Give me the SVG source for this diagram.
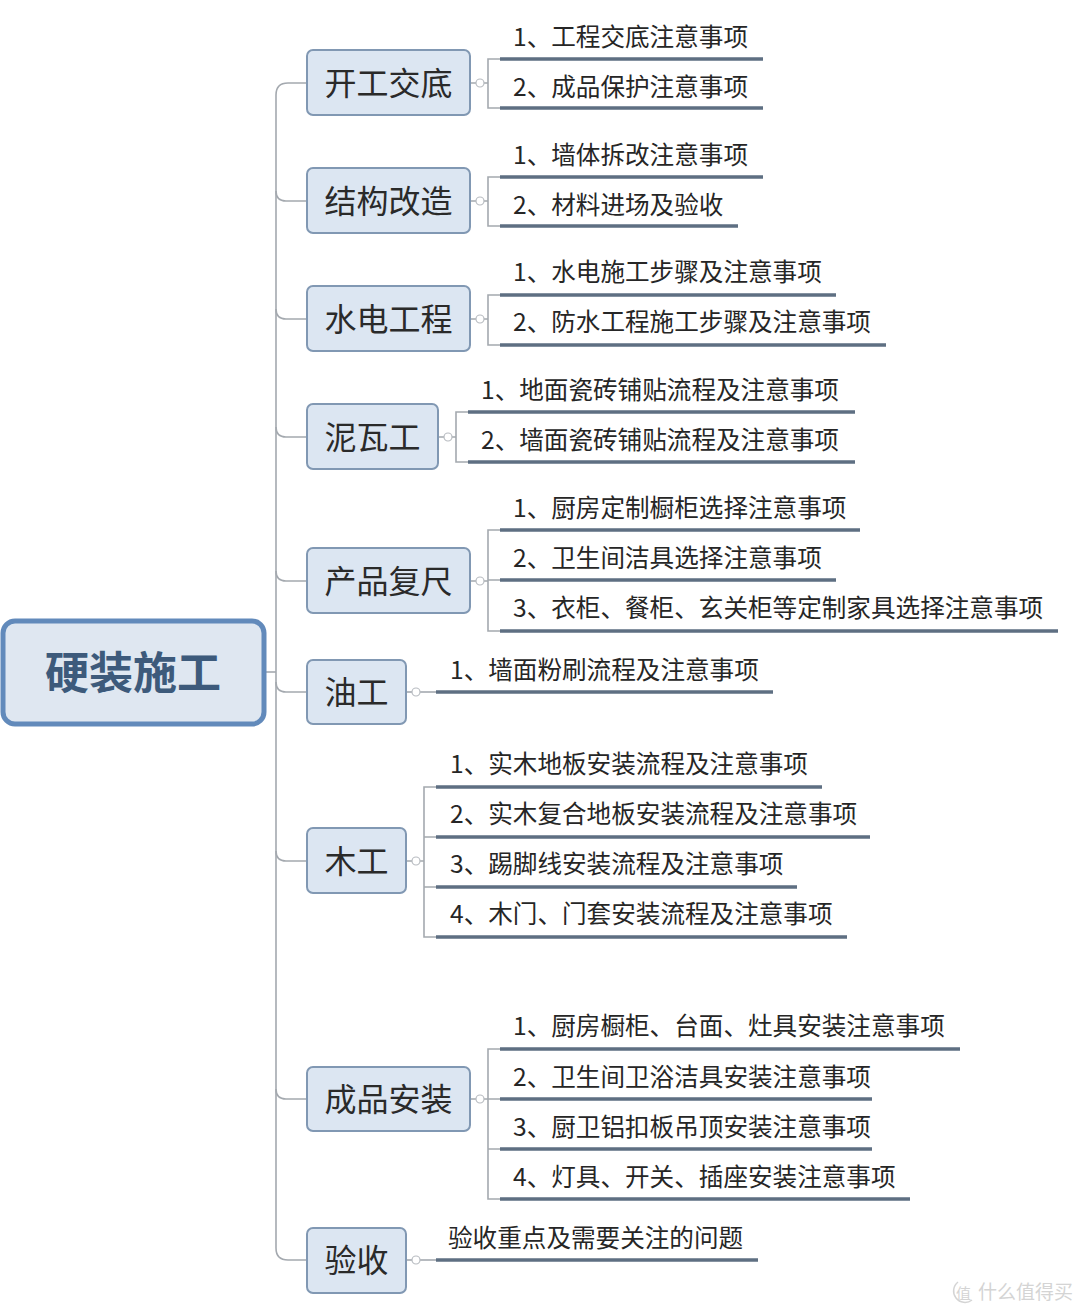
<svg xmlns="http://www.w3.org/2000/svg" width="1080" height="1314" viewBox="0 0 1080 1314">
<style>
.bg{fill:#ffffff}
.root{fill:#dfe7f1;stroke:#628abb;stroke-width:5}
.rootT{font-family:"Noto Sans CJK SC","Noto Sans CJK TC",sans-serif;font-size:44px;font-weight:bold;fill:#3d5a7b;text-anchor:middle}
.cat{fill:#dce6f2;stroke:#8198b3;stroke-width:2}
.catT{font-family:"Noto Sans CJK SC",sans-serif;font-size:32px;fill:#2a2a2a;text-anchor:middle}
.item{font-family:"Noto Sans CJK SC",sans-serif;font-size:24.6px;fill:#262626}
.conn{fill:none;stroke:#a4a9af;stroke-width:1.6}
.ul{fill:none;stroke:#5e6f82;stroke-width:3.5}
.knob{fill:#ffffff;stroke:#b8bcc1;stroke-width:1.2}
.wm{font-family:"Noto Sans CJK SC",sans-serif;font-size:19px;fill:#d4d4d4}
</style>
<rect class="bg" x="0" y="0" width="1080" height="1314"/>

<g id="connectors">
  <path class="conn" d="M265,672 H276"/>
  <path class="conn" d="M307,83 H288 Q276,83 276,95 V1248 Q276,1260 288,1260 H307"/>
  <path class="conn" d="M276,191 Q276,201 286,201 H307"/>
  <path class="conn" d="M276,309 Q276,319 286,319 H307"/>
  <path class="conn" d="M276,427 Q276,437 286,437 H307"/>
  <path class="conn" d="M276,571 Q276,581 286,581 H307"/>
  <path class="conn" d="M276,682 Q276,692 286,692 H307"/>
  <path class="conn" d="M276,851 Q276,861 286,861 H307"/>
  <path class="conn" d="M276,1089 Q276,1099 286,1099 H307"/>

  <path class="conn" d="M470,83 H488 M500,59 H488 V108 H500"/>
  <path class="conn" d="M470,201 H488 M500,177 H488 V226 H500"/>
  <path class="conn" d="M470,319 H488 M500,295 H488 V345 H500"/>
  <path class="conn" d="M438,437 H456 M468,412 H456 V462 H468"/>
  <path class="conn" d="M470,581 H488 M500,530 H488 V631 H500 M488,580 H500"/>
  <path class="conn" d="M406,692 H436"/>
  <path class="conn" d="M406,861 H424 M436,787 H424 V937 H436 M424,837 H436 M424,887 H436"/>
  <path class="conn" d="M470,1099 H488 M500,1049 H488 V1199 H500 M488,1099 H500 M488,1149 H500"/>
  <path class="conn" d="M406,1260 H436"/>

  <circle class="knob" cx="480" cy="83" r="4"/>
  <circle class="knob" cx="480" cy="201" r="4"/>
  <circle class="knob" cx="480" cy="319" r="4"/>
  <circle class="knob" cx="448" cy="437" r="4"/>
  <circle class="knob" cx="480" cy="581" r="4"/>
  <circle class="knob" cx="416" cy="692" r="4"/>
  <circle class="knob" cx="416" cy="861" r="4"/>
  <circle class="knob" cx="480" cy="1099" r="4"/>
  <circle class="knob" cx="416" cy="1260" r="4"/>

  <path class="ul" d="M500,59 H763 M500,108 H763"/>
  <path class="ul" d="M500,177 H763 M500,226 H738"/>
  <path class="ul" d="M500,295 H836 M500,345 H886"/>
  <path class="ul" d="M468,412 H855 M468,462 H855"/>
  <path class="ul" d="M500,530 H860 M500,580 H836 M500,631 H1058"/>
  <path class="ul" d="M436,692 H773"/>
  <path class="ul" d="M436,787 H822 M436,837 H870 M436,887 H797 M436,937 H847"/>
  <path class="ul" d="M500,1049 H960 M500,1099 H872 M500,1149 H872 M500,1199 H910"/>
  <path class="ul" d="M436,1260 H758"/>
</g>

<g id="root">
  <rect class="root" x="3" y="621" width="261" height="103" rx="12"/>
  <text class="rootT" x="133" y="689">硬装施工</text>
</g>

<g id="n1">
  <rect class="cat" x="307" y="50" width="163" height="65" rx="6"/>
  <text class="catT" x="388.5" y="95">开工交底</text>
  <text class="item" x="513" y="46">1、工程交底注意事项</text>
  <text class="item" x="513" y="96">2、成品保护注意事项</text>
</g>

<g id="n2">
  <rect class="cat" x="307" y="168" width="163" height="65" rx="6"/>
  <text class="catT" x="388.5" y="213">结构改造</text>
  <text class="item" x="513" y="164">1、墙体拆改注意事项</text>
  <text class="item" x="513" y="214">2、材料进场及验收</text>
</g>

<g id="n3">
  <rect class="cat" x="307" y="286" width="163" height="65" rx="6"/>
  <text class="catT" x="388.5" y="331">水电工程</text>
  <text class="item" x="513" y="281">1、水电施工步骤及注意事项</text>
  <text class="item" x="513" y="331">2、防水工程施工步骤及注意事项</text>
</g>

<g id="n4">
  <rect class="cat" x="307" y="404" width="131" height="65" rx="6"/>
  <text class="catT" x="372.5" y="449">泥瓦工</text>
  <text class="item" x="481" y="399">1、地面瓷砖铺贴流程及注意事项</text>
  <text class="item" x="481" y="449">2、墙面瓷砖铺贴流程及注意事项</text>
</g>

<g id="n5">
  <rect class="cat" x="307" y="548" width="163" height="65" rx="6"/>
  <text class="catT" x="388.5" y="593">产品复尺</text>
  <text class="item" x="513" y="517">1、厨房定制橱柜选择注意事项</text>
  <text class="item" x="513" y="567">2、卫生间洁具选择注意事项</text>
  <text class="item" x="513" y="617">3、衣柜、餐柜、玄关柜等定制家具选择注意事项</text>
</g>

<g id="n6">
  <rect class="cat" x="307" y="660" width="99" height="64" rx="6"/>
  <text class="catT" x="356.5" y="704">油工</text>
  <text class="item" x="450" y="679">1、墙面粉刷流程及注意事项</text>
</g>

<g id="n7">
  <rect class="cat" x="307" y="828" width="99" height="65" rx="6"/>
  <text class="catT" x="356.5" y="873">木工</text>
  <text class="item" x="450" y="773">1、实木地板安装流程及注意事项</text>
  <text class="item" x="450" y="823">2、实木复合地板安装流程及注意事项</text>
  <text class="item" x="450" y="873">3、踢脚线安装流程及注意事项</text>
  <text class="item" x="450" y="923">4、木门、门套安装流程及注意事项</text>
</g>

<g id="n8">
  <rect class="cat" x="307" y="1067" width="163" height="64" rx="6"/>
  <text class="catT" x="388.5" y="1111">成品安装</text>
  <text class="item" x="513" y="1035">1、厨房橱柜、台面、灶具安装注意事项</text>
  <text class="item" x="513" y="1086">2、卫生间卫浴洁具安装注意事项</text>
  <text class="item" x="513" y="1136">3、厨卫铝扣板吊顶安装注意事项</text>
  <text class="item" x="513" y="1186">4、灯具、开关、插座安装注意事项</text>
</g>

<g id="n9">
  <rect class="cat" x="307" y="1228" width="99" height="65" rx="6"/>
  <text class="catT" x="356.5" y="1272">验收</text>
  <text class="item" x="448" y="1247">验收重点及需要关注的问题</text>
</g>

<g id="watermark">
  <path d="M958,1282 A10,10 0 1,0 972,1300" fill="none" stroke="#d4d4d4" stroke-width="1.5"/>
  <text class="wm" x="956" y="1299" style="font-size:15px">值</text>
  <text class="wm" x="978" y="1299">什么值得买</text>
</g>
</svg>
